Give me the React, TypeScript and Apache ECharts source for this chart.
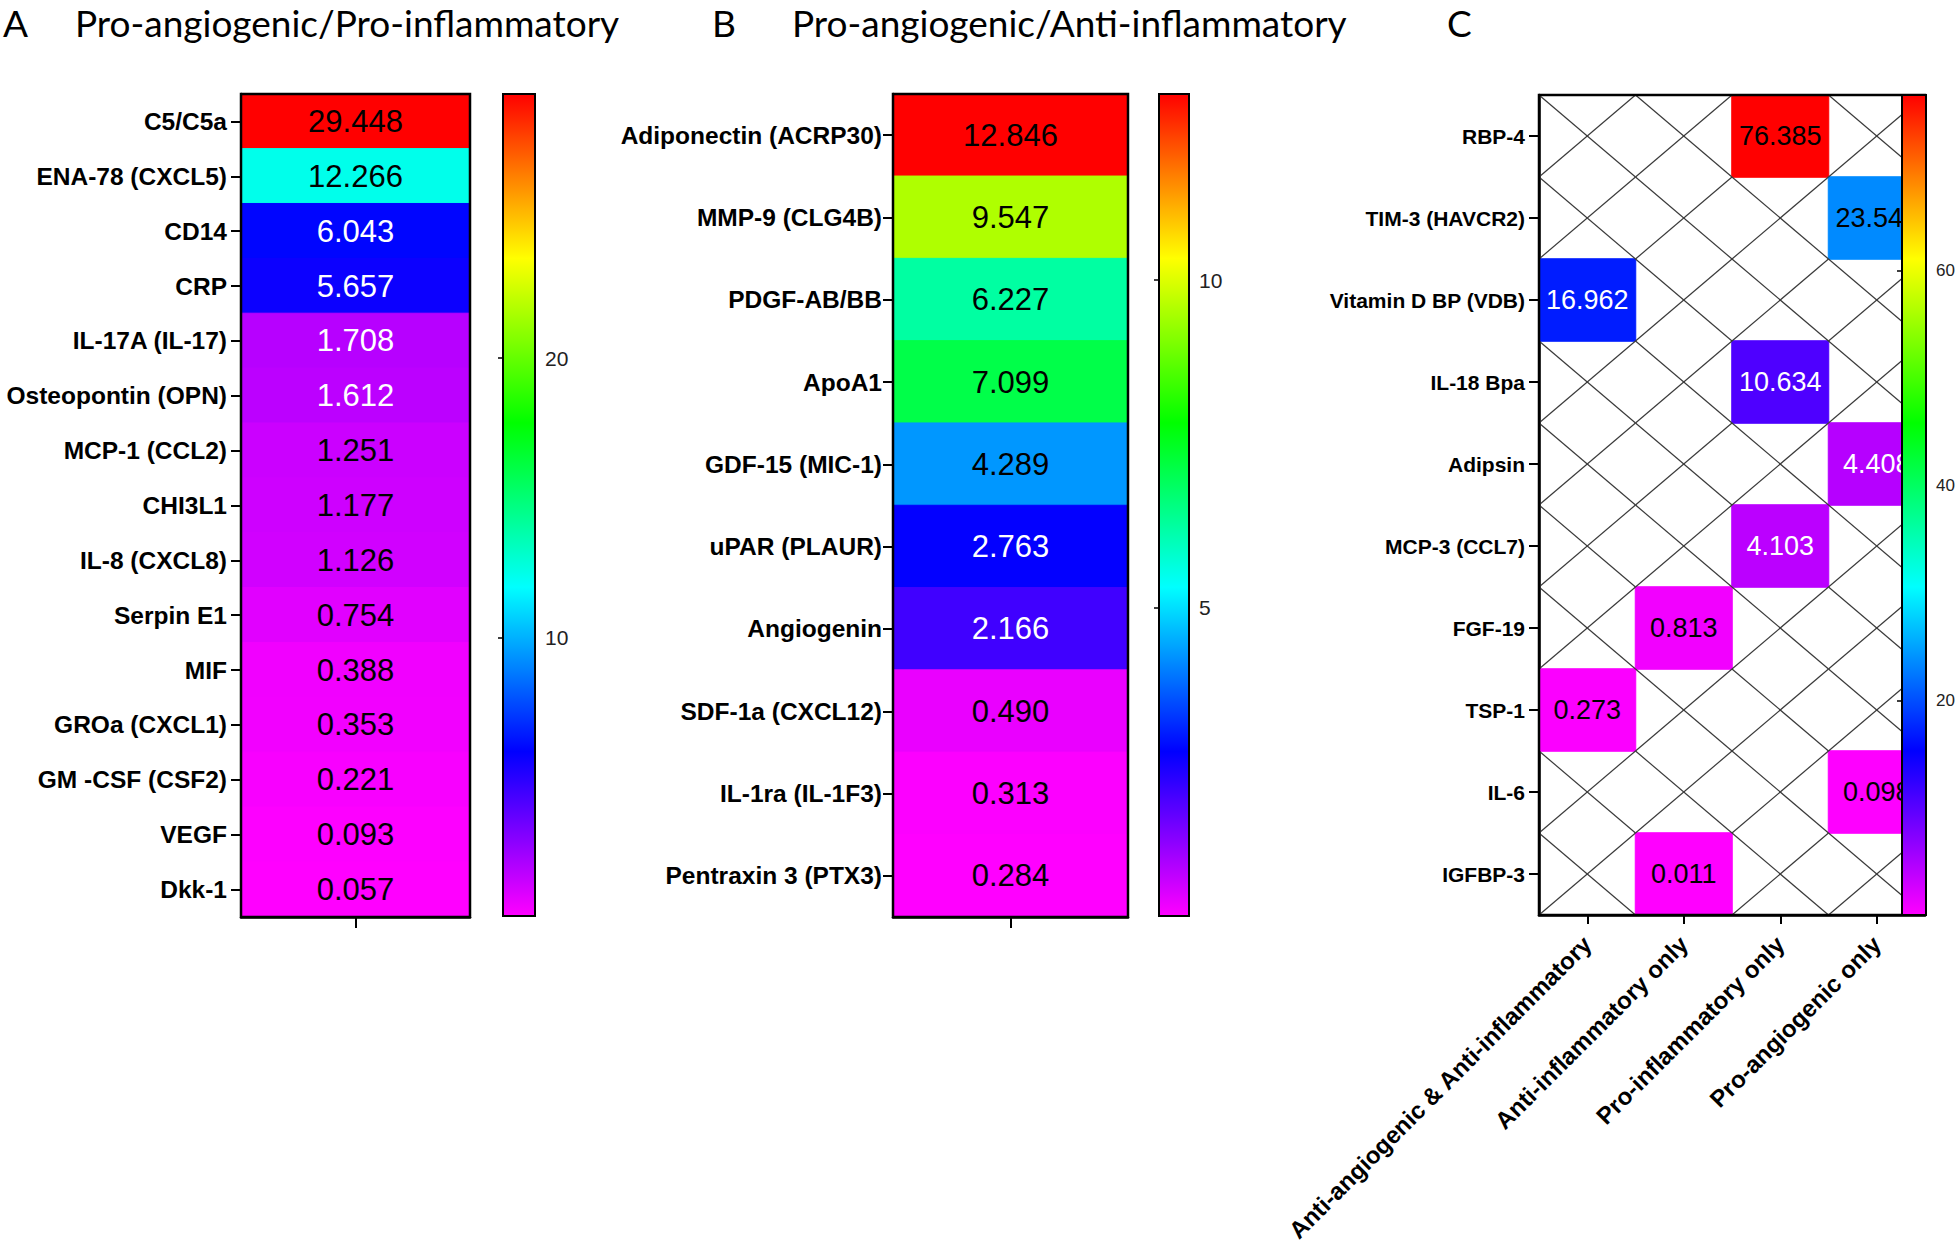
import React, { useEffect, useRef } from "react";
import * as echarts from "echarts";

// ---------------- data ----------------
const panelLetters = ["A", "B", "C"];
const panelATitle = "Pro-angiogenic/Pro-inflammatory";
const panelBTitle = "Pro-angiogenic/Anti-inflammatory";

const aLabels = [
  "C5/C5a", "ENA-78 (CXCL5)", "CD14", "CRP", "IL-17A (IL-17)", "Osteopontin (OPN)",
  "MCP-1 (CCL2)", "CHI3L1", "IL-8 (CXCL8)", "Serpin E1", "MIF", "GROa (CXCL1)",
  "GM -CSF (CSF2)", "VEGF", "Dkk-1",
];
const aValues = [29.448, 12.266, 6.043, 5.657, 1.708, 1.612, 1.251, 1.177, 1.126, 0.754, 0.388, 0.353, 0.221, 0.093, 0.057];
const aTicks = [10, 20];

const bLabels = [
  "Adiponectin (ACRP30)", "MMP-9 (CLG4B)", "PDGF-AB/BB", "ApoA1", "GDF-15 (MIC-1)",
  "uPAR (PLAUR)", "Angiogenin", "SDF-1a (CXCL12)", "IL-1ra (IL-1F3)", "Pentraxin 3 (PTX3)",
];
const bValues = [12.846, 9.547, 6.227, 7.099, 4.289, 2.763, 2.166, 0.49, 0.313, 0.284];
const bTicks = [5, 10];

const cLabels = [
  "RBP-4", "TIM-3 (HAVCR2)", "Vitamin D BP (VDB)", "IL-18 Bpa", "Adipsin",
  "MCP-3 (CCL7)", "FGF-19", "TSP-1", "IL-6", "IGFBP-3",
];
const cColumns = [
  "Anti-angiogenic & Anti-inflammatory", "Anti-inflammatory only",
  "Pro-inflammatory only", "Pro-angiogenic only",
];
const cColumnOfRow = [2, 3, 0, 2, 3, 2, 1, 0, 3, 1];
const cValues = [76.385, 23.54, 16.962, 10.634, 4.408, 4.103, 0.813, 0.273, 0.098, 0.011];
const cTicks = [20, 40, 60];

// ---------------- styles ----------------
const RAINBOW = ["#ff00ff", "#0000ff", "#00ffff", "#00ff00", "#ffff00", "#ff0000"];
const FONT = "Liberation Sans";
const TITLE_FONT = "Lato";

const LAYOUT = {
  A: { heat: { left: 241, top: 94, width: 229, height: 823 }, bar: { left: 503, top: 94, width: 32, height: 822 } },
  B: { heat: { left: 893, top: 94, width: 235, height: 823 }, bar: { left: 1159, top: 94, width: 30, height: 822 } },
  C: { heat: { left: 1539, top: 95, width: 386, height: 820 }, bar: { left: 1902, top: 95, width: 24, height: 820 } },
};

function labelColor(v: number, min: number, max: number) {
  const t = (v - min) / (max - min);
  return t > 0.045 && t < 0.26 ? "#ffffff" : "#000000";
}

// same linear ramp the visualMap uses; only used to hide anti-aliasing seams between cells
function seamColor(v: number, min: number, max: number) {
  return echarts.color.lerp((v - min) / (max - min), RAINBOW) as string;
}

function colorbarAxes(grid: number, min: number, max: number, ticks: number[], fontSize: number) {
  const tickStyle = { color: "#000", width: 1.5 };
  return [
    {
      type: "value", gridIndex: grid, position: "right", min, max,
      axisLine: { show: false }, splitLine: { show: false },
      axisTick: { show: true, inside: true, length: 5, customValues: ticks, lineStyle: tickStyle },
      axisLabel: { show: true, customValues: ticks, fontSize, color: "#222", margin: 10, fontFamily: FONT },
    },
    {
      type: "value", gridIndex: grid, position: "left", min, max,
      axisLine: { show: false }, splitLine: { show: false },
      axisTick: { show: true, inside: true, length: 5, customValues: ticks, lineStyle: tickStyle },
      axisLabel: { show: false },
    },
  ];
}

function catYAxis(grid: number, labels: string[], fontSize: number, margin: number) {
  return {
    type: "category", gridIndex: grid, data: labels, inverse: true,
    axisLine: { show: true, lineStyle: { color: "#000", width: 2.5 } },
    axisTick: { show: true, alignWithLabel: true, length: 10, lineStyle: { color: "#000", width: 2 } },
    axisLabel: { fontSize, fontWeight: "bold", color: "#000", fontFamily: FONT, margin, interval: 0 },
    splitLine: { show: false },
  };
}

export default function App() {
  const ref = useRef<HTMLDivElement>(null);

  useEffect(() => {
    if (!ref.current) return;
    const chart = echarts.init(ref.current, undefined, { renderer: "svg" });

    const aMin = Math.min(...aValues), aMax = Math.max(...aValues);
    const bMin = Math.min(...bValues), bMax = Math.max(...bValues);
    const cMin = Math.min(...cValues), cMax = Math.max(...cValues);

    const item = (x: number, y: number, v: number, min: number, max: number) => ({
      value: [x, y, v],
      label: { color: labelColor(v, min, max) },
      itemStyle: { borderColor: seamColor(v, min, max), borderWidth: 1 },
    });

    const aData = aValues.map((v, i) => item(0, i, v, aMin, aMax));
    const bData = bValues.map((v, i) => item(0, i, v, bMin, bMax));
    const cData = cValues.map((v, i) => item(cColumnOfRow[i], i, v, cMin, cMax));
    const cEmpty: number[][] = [];
    cLabels.forEach((_, r) => {
      cColumns.forEach((__, c) => {
        if (cColumnOfRow[r] !== c) cEmpty.push([c, r]);
      });
    });

    const heatGrid = (r: any) => ({ ...r, show: true, borderColor: "#000", borderWidth: 2.5, z: 3, containLabel: false });
    const barGrid = (r: any) => ({ ...r, show: true, borderColor: "#000", borderWidth: 2, z: 10, containLabel: false });

    const singleX = (grid: number) => ({
      type: "category", gridIndex: grid, data: [""],
      axisLine: { show: true, lineStyle: { color: "#000", width: 2.5 } },
      axisTick: { show: true, alignWithLabel: true, length: 11, lineStyle: { color: "#000", width: 2 } },
      axisLabel: { show: false }, splitLine: { show: false },
    });
    const hiddenX = (grid: number) => ({ type: "value", gridIndex: grid, show: false, min: 0, max: 1 });

    const vm = (seriesIndex: number, min: number, max: number, r: any) => ({
      type: "continuous", seriesIndex, min, max, inRange: { color: RAINBOW },
      calculable: false, orient: "vertical", left: r.left, top: r.top,
      itemWidth: r.width, itemHeight: r.height, padding: 0, showLabel: false, hoverLink: false, text: null,
    });

    const valueLabel = (fontSize: number) => ({
      show: true, fontSize, fontFamily: FONT,
      formatter: (p: any) => Number(p.value[2]).toFixed(3),
    });

    const titleText = (x: number, text: string) => ({
      type: "text", x, y: 22,
      style: { text, fontSize: 37, fontFamily: TITLE_FONT, fill: "#000", verticalAlign: "middle", align: "left" },
    });

    const option: any = {
      animation: false,
      backgroundColor: "#ffffff",
      grid: [
        heatGrid(LAYOUT.A.heat), barGrid(LAYOUT.A.bar),
        heatGrid(LAYOUT.B.heat), barGrid(LAYOUT.B.bar),
        heatGrid(LAYOUT.C.heat), barGrid(LAYOUT.C.bar),
      ],
      xAxis: [
        singleX(0), hiddenX(1), singleX(2), hiddenX(3),
        {
          type: "category", gridIndex: 4, data: cColumns,
          axisLine: { show: true, lineStyle: { color: "#000", width: 2.5 } },
          axisTick: { show: true, alignWithLabel: true, length: 9, lineStyle: { color: "#000", width: 2 } },
          axisLabel: { rotate: 45, fontSize: 24, fontWeight: "bold", color: "#000", fontFamily: FONT, margin: 25, interval: 0 },
          splitLine: { show: false },
        },
        hiddenX(5),
      ],
      yAxis: [
        catYAxis(0, aLabels, 24.5, 14),
        ...colorbarAxes(1, aMin, aMax, aTicks, 21),
        catYAxis(2, bLabels, 24.5, 11),
        ...colorbarAxes(3, bMin, bMax, bTicks, 21),
        catYAxis(4, cLabels, 21, 14),
        ...colorbarAxes(5, cMin, cMax, cTicks, 17),
      ],
      visualMap: [
        vm(0, aMin, aMax, LAYOUT.A.bar),
        vm(1, bMin, bMax, LAYOUT.B.bar),
        vm(2, cMin, cMax, LAYOUT.C.bar),
      ],
      series: [
        { type: "heatmap", xAxisIndex: 0, yAxisIndex: 0, data: aData, label: valueLabel(31), emphasis: { disabled: true }, silent: true },
        { type: "heatmap", xAxisIndex: 2, yAxisIndex: 3, data: bData, label: valueLabel(31), emphasis: { disabled: true }, silent: true },
        { type: "heatmap", xAxisIndex: 4, yAxisIndex: 6, data: cData, label: valueLabel(27), emphasis: { disabled: true }, silent: true },
        {
          type: "custom", xAxisIndex: 4, yAxisIndex: 6, data: cEmpty, silent: true,
          encode: { x: 0, y: 1 },
          renderItem: (params: any, api: any) => {
            const c = api.coord([api.value(0), api.value(1)]);
            const s = api.size([1, 1]);
            const x0 = c[0] - s[0] / 2, x1 = c[0] + s[0] / 2;
            const y0 = c[1] - s[1] / 2, y1 = c[1] + s[1] / 2;
            const st = { stroke: "#3a3a3a", lineWidth: 1.2 };
            return {
              type: "group",
              children: [
                { type: "line", shape: { x1: x0, y1: y0, x2: x1, y2: y1 }, style: st },
                { type: "line", shape: { x1: x0, y1: y1, x2: x1, y2: y0 }, style: st },
              ],
            };
          },
        },
      ],
      graphic: [
        titleText(3, panelLetters[0]),
        titleText(75, panelATitle),
        titleText(712, panelLetters[1]),
        titleText(792, panelBTitle),
        titleText(1447, panelLetters[2]),
      ],
    };

    chart.setOption(option);
    return () => chart.dispose();
  }, []);

  return (
    <div
      ref={ref}
      style={{ position: "fixed", left: 0, top: 0, width: 1959, height: 1254, background: "#fff" }}
    />
  );
}
